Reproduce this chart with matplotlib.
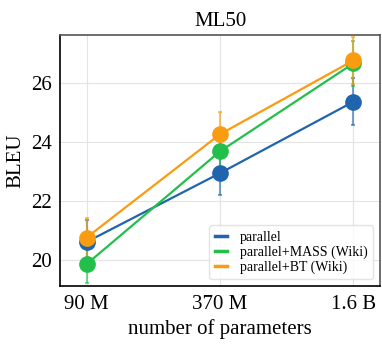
import matplotlib
matplotlib.use("Agg")
import matplotlib.pyplot as plt
import numpy as np

plt.rcParams["font.family"] = ["Liberation Serif", "DejaVu Serif"]

sizes = ["90 M", "370 M", "1.6 B"]
series = ["parallel", "parallel+MASS (Wiki)", "parallel+BT (Wiki)"]
bleu = {
    "parallel":             [20.60, 22.93, 25.35],
    "parallel+MASS (Wiki)": [19.85, 23.67, 26.65],
    "parallel+BT (Wiki)":   [20.75, 24.25, 26.75],
}
err = {
    "parallel":             [0.75, 0.75, 0.80],
    "parallel+MASS (Wiki)": [0.65, 0.60, 0.75],
    "parallel+BT (Wiki)":   [0.65, 0.75, 0.80],
}
colors = ["#1f64ad", "#22bf4a", "#fa9c12"]

fig, ax = plt.subplots(figsize=(3.82, 3.44), dpi=100)
x = np.arange(len(sizes))

for name, c in zip(series, colors):
    ax.errorbar(x, bleu[name], yerr=err[name], fmt="none", ecolor=c,
                alpha=0.6, elinewidth=1.5, capsize=1.5, capthick=1.5, zorder=2)
    ax.plot(x, bleu[name], color=c, lw=1.6, marker="o", markersize=11,
            label=name, zorder=3)

ax.set_xlim(-0.2, 2.2)
ax.set_ylim(19.1, 27.62)
ax.set_xticks(x)
ax.set_xticklabels(sizes, fontsize=15)
ax.set_yticks([20, 22, 24, 26])
ax.tick_params(axis="y", labelsize=15, length=0, pad=6)
ax.tick_params(axis="x", length=0, pad=6)
ax.grid(True, color="#e3e3e3", lw=0.8)
ax.set_axisbelow(True)
for s in ["top", "right"]:
    ax.spines[s].set_color("#555555")
    ax.spines[s].set_linewidth(1.2)
for s in ["left", "bottom"]:
    ax.spines[s].set_color("black")
    ax.spines[s].set_linewidth(1.2)

ax.set_title("ML50", fontsize=15)
ax.set_xlabel("number of parameters", fontsize=15)
ax.set_ylabel("BLEU", fontsize=15)

handles = [plt.Line2D([0], [0], color=c, lw=2.5) for c in colors]
ax.legend(handles, series, loc="lower right", fontsize=10,
          handlelength=0.9, handletextpad=0.9, labelspacing=0.1,
          borderpad=0.4, framealpha=0.8, edgecolor="#dddddd")

fig.subplots_adjust(left=0.157, right=0.995, top=0.899, bottom=0.168)
fig.savefig("out.png", dpi=100)
